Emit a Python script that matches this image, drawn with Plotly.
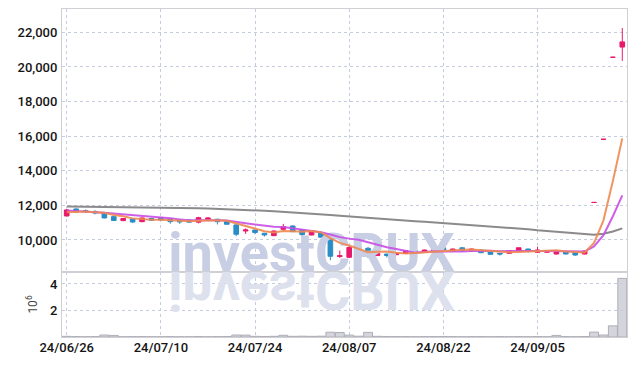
import plotly.graph_objects as go
from plotly.subplots import make_subplots

dates = ["2024-06-26","2024-06-27","2024-06-28","2024-07-01","2024-07-02","2024-07-03","2024-07-04","2024-07-05",
         "2024-07-08","2024-07-09","2024-07-10","2024-07-11","2024-07-12","2024-07-15","2024-07-16","2024-07-17",
         "2024-07-18","2024-07-19","2024-07-22","2024-07-23","2024-07-24","2024-07-25","2024-07-26","2024-07-29",
         "2024-07-30","2024-07-31","2024-08-01","2024-08-02","2024-08-05","2024-08-06","2024-08-07","2024-08-08",
         "2024-08-09","2024-08-12","2024-08-13","2024-08-14","2024-08-16","2024-08-19","2024-08-20","2024-08-21",
         "2024-08-22","2024-08-23","2024-08-26","2024-08-27","2024-08-28","2024-08-29","2024-08-30","2024-09-02",
         "2024-09-03","2024-09-04","2024-09-05","2024-09-06","2024-09-09","2024-09-10","2024-09-11","2024-09-12",
         "2024-09-13","2024-09-19","2024-09-20","2024-09-23"]

open_ = [11390,11795,11700,11650,11563,11350,11120,11216,11060,11240,11290,11216,11158,11150,11030,11200,
         11200,11060,10869,10520,10579,10390,10250,10620,10811,10579,10290,10405,10160,9050,9000,9479,
         9520,9100,9189,9150,9230,9380,9290,9363,9550,9363,9550,9370,9421,9320,9230,9230,9380,9479,
         9290,9290,9190,9290,9265,9190,12170,15820,20560,21150]
high = [11780,11830,11760,11720,11600,11380,11260,11240,11300,11280,11320,11240,11180,11170,11340,11330,
        11220,11080,10920,10670,10600,10400,10540,10930,10840,10600,10560,10430,10180,9390,9660,9640,
        9600,9260,9200,9290,9400,9400,9440,9500,9620,9500,9570,9500,9440,9330,9240,9400,9570,9490,
        9610,9400,9340,9310,9280,9380,12170,15820,20560,22250]
low = [11350,11600,11560,11480,11250,11100,11090,10980,11030,11100,11120,10940,10930,11000,10960,11120,
       10900,10880,10220,10350,10330,10200,10230,10540,10460,10150,10270,10140,8830,8960,8980,9460,
       8960,9080,8990,9130,9200,9240,9270,9340,9400,9340,9360,9350,9250,9150,9100,9210,9360,9280,
       9270,9270,9160,9170,9080,9170,12170,15820,20560,20350]
close = [11737,11621,11650,11560,11274,11130,11240,11042,11274,11140,11160,11060,11042,11030,11290,11270,
         11060,10910,10330,10580,10434,10290,10521,10770,10480,10310,10540,10160,9060,9090,9570,9610,
         9132,9230,9100,9265,9380,9265,9420,9479,9421,9479,9380,9479,9265,9170,9190,9380,9550,9380,
         9421,9380,9320,9190,9132,9363,12170,15820,20560,21450]

ma5 = [11600,11620,11640,11610,11568,11447,11371,11249,11192,11165,11171,11135,11135,11086,11116,11138,
       11138,11112,10972,10830,10663,10509,10431,10519,10499,10474,10524,10452,10110,9832,9684,9498,
       9292,9326,9328,9267,9221,9248,9286,9362,9393,9413,9436,9448,9405,9355,9297,9297,9311,9334,
       9384,9422,9410,9338,9289,9277,9835,11135,13409,15873]
ma10 = [11700,11680,11650,11610,11570,11530,11490,11450,11410,11367,11309,11253,11192,11139,11141,11155,
        11137,11124,11029,10973,10901,10824,10772,10746,10665,10569,10517,10442,10315,10166,10079,10011,
        9872,9718,9580,9476,9360,9270,9306,9345,9330,9317,9342,9367,9384,9374,9355,9367,9380,9370,
        9370,9360,9354,9325,9312,9331,9629,10273,11374,12581]
ma60 = [11930,11925,11920,11915,11910,11905,11900,11895,11890,11880,11870,11860,11850,11840,11830,11815,
        11800,11785,11765,11740,11715,11690,11660,11630,11600,11565,11530,11490,11450,11405,11360,11320,
        11280,11240,11200,11160,11120,11085,11050,11015,10980,10940,10900,10860,10820,10780,10740,10700,
        10660,10620,10560,10520,10480,10430,10380,10330,10300,10360,10490,10670]

volume_m = [0.05,0.03,0.02,0.03,0.15,0.12,0.02,0.03,0.03,0.02,0.02,0.03,0.02,0.02,0.04,0.02,
            0.03,0.04,0.15,0.14,0.05,0.04,0.05,0.13,0.05,0.06,0.05,0.06,0.36,0.34,0.14,0.06,
            0.35,0.05,0.04,0.03,0.03,0.02,0.03,0.03,0.04,0.03,0.02,0.03,0.03,0.02,0.03,0.02,
            0.03,0.02,0.03,0.02,0.12,0.03,0.02,0.04,0.37,0.15,0.84,4.42]

tick_dates = ["2024-06-26","2024-07-10","2024-07-24","2024-08-07","2024-08-22","2024-09-05"]
tick_labels = ["24/06/26","24/07/10","24/07/24","24/08/07","24/08/22","24/09/05"]
price_ticks = [10000,12000,14000,16000,18000,20000,22000]
vol_ticks = [2,4]
watermark = "investCRUX"

RED = "#e8196b"
BLUE = "#2a8dc6"
GRID = "#c6cce0"
AXLINE = "#cfcfd4"
FONT = "Roboto"

fig = make_subplots(rows=2, cols=1, shared_xaxes=True, vertical_spacing=0,
                    row_heights=[263/328, 65/328])

# watermark (behind the marks)
fig.add_trace(go.Scatter(x=[dates[26]], y=[8975], mode="text", text=[watermark],
                         textposition="middle center", cliponaxis=False,
                         textfont=dict(family="Roboto", size=54, weight="bold", color="#c8cee3"),
                         hoverinfo="skip", showlegend=False), row=1, col=1)
fig.add_trace(go.Scatter(x=[dates[26]], y=[3.12], mode="text", text=[watermark],
                         textposition="middle center", cliponaxis=False,
                         textfont=dict(family="Roboto", size=54, weight="bold", color="#dde1ee"),
                         hoverinfo="skip", showlegend=False), row=2, col=1)

fig.add_trace(go.Candlestick(x=dates, open=open_, high=high, low=low, close=close,
                             increasing=dict(line=dict(color=RED, width=1), fillcolor=RED),
                             decreasing=dict(line=dict(color=BLUE, width=1), fillcolor=BLUE),
                             showlegend=False, hoverinfo="skip"), row=1, col=1)
fig.add_trace(go.Scatter(x=dates, y=ma60, mode="lines", line=dict(color="#858585", width=2),
                         opacity=0.95, showlegend=False, hoverinfo="skip"), row=1, col=1)
fig.add_trace(go.Scatter(x=dates, y=ma10, mode="lines", line=dict(color="#c94fe6", width=2),
                         opacity=0.9, showlegend=False, hoverinfo="skip"), row=1, col=1)
fig.add_trace(go.Scatter(x=dates, y=ma5, mode="lines", line=dict(color="#ef8a52", width=2),
                         opacity=0.9, showlegend=False, hoverinfo="skip"), row=1, col=1)

fig.add_trace(go.Bar(x=dates, y=volume_m, marker=dict(color="rgba(205,205,214,0.85)",
                                                      line=dict(color="#aeaeb8", width=1)),
                     showlegend=False, hoverinfo="skip"), row=2, col=1)

axis_common = dict(showgrid=True, gridcolor=GRID, griddash="dot", gridwidth=1,
                   showline=True, linecolor=AXLINE, linewidth=1, mirror=True, zeroline=False,
                   automargin=False,
                   tickfont=dict(family=FONT, size=13, weight=500, color="#151515"))

fig.update_xaxes(type="category", categoryorder="array", categoryarray=dates,
                 range=[-0.5, 59.5], tickvals=tick_dates, ticktext=tick_labels,
                 rangeslider=dict(visible=False), ticks="outside", ticklen=0,
                 ticklabelstandoff=-2,
                 tickcolor="rgba(0,0,0,0)", **axis_common)
fig.update_xaxes(showticklabels=False, row=1, col=1)
fig.update_yaxes(range=[8150, 23350], tickvals=price_ticks, tickformat=",",
                 ticks="outside", ticklen=1, tickcolor="rgba(0,0,0,0)", row=1, col=1, **axis_common)
fig.update_yaxes(range=[0, 4.9], tickvals=vol_ticks, ticks="outside", ticklen=1,
                 tickcolor="rgba(0,0,0,0)",
                 title=dict(text="10<sup>6</sup>", font=dict(family=FONT, size=12, color="#444444"),
                            standoff=9),
                 row=2, col=1, **axis_common)

fig.update_layout(width=635, height=366, margin=dict(l=62, r=8, t=9, b=29),
                  paper_bgcolor="white", plot_bgcolor="white", bargap=0.05,
                  showlegend=False, hovermode=False)

post = """
document.body.style.margin = '0';
document.body.style.overflow = 'hidden';
var gd = document.getElementById('{plot_id}');
var texts = gd.querySelectorAll('.textpoint text');
if (texts.length) {
  var t = texts[texts.length - 1];
  t.style.transformBox = 'fill-box';
  t.style.transformOrigin = '50% 50%';
  t.style.transform = 'scaleY(-1)';
}
"""
fig.write_html("out.html", post_script=post, config={"displayModeBar": False})
